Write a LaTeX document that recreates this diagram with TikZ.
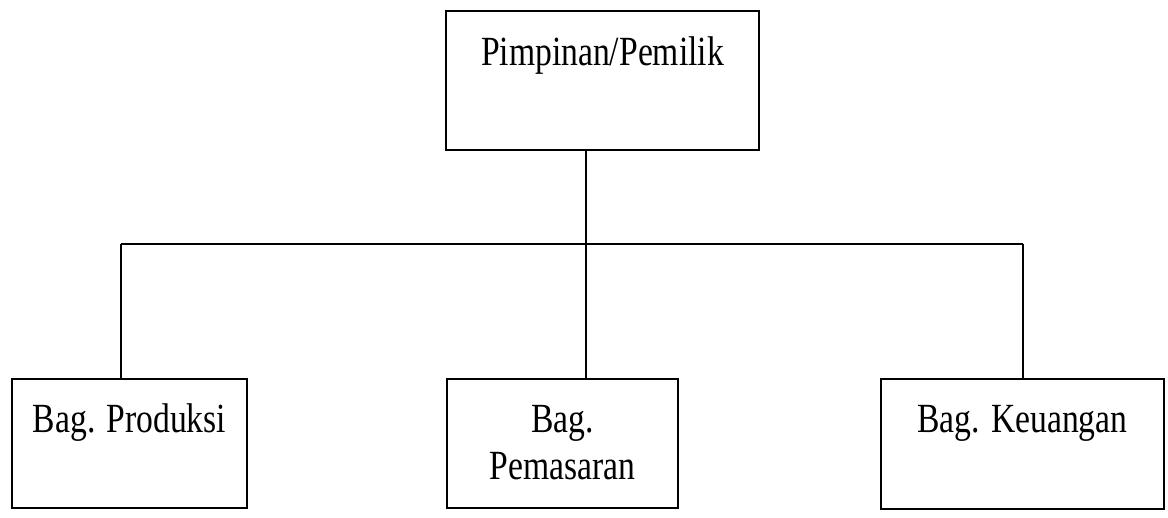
\documentclass[tikz,border=0pt]{standalone}
\usepackage{fontspec}
\setmainfont[FakeStretch=0.81]{Liberation Serif}
\begin{document}
\begin{tikzpicture}[x=0.5pt,y=-0.5pt,
  unit/.style={draw=black, line width=1pt, inner sep=0pt, anchor=north,
    font=\fontsize{20.75}{24}\selectfont, text height=26.5pt, text depth=38pt},
  link/.style={draw=black, line width=1pt}]
\useasboundingbox (0,0) rectangle (1168,518);

% Head of the organisation
\node[unit, minimum width=156.5pt, text height=27.5pt, text depth=42pt]
  (head) at (602.5,10) {Pimpinan/Pemilik};

% Departments
\node[unit, minimum width=117.5pt] (prod) at (129.5,378) {Bag. Produksi};
\node[unit, minimum width=115.5pt] (mark) at (562.5,378)
  {\begin{tabular}[t]{@{}c@{}}Bag.\\Pemasaran\end{tabular}};
\node[unit, minimum width=141.5pt, text depth=38.5pt] (fin) at (1022.5,378) {Bag. Keuangan};

% Junction points of the connecting lines
\coordinate (jm) at (586,244);
\coordinate (jl) at (121,244);
\coordinate (jr) at (1023,244);

\draw[link] (head.south -| jm) -- (jm);
\draw[link] (jl) -- (jr);
\draw[link] (jl) -- (prod.north -| jl);
\draw[link] (jm) -- (mark.north -| jm);
\draw[link] (jr) -- (fin.north -| jr);
\end{tikzpicture}
\end{document}
